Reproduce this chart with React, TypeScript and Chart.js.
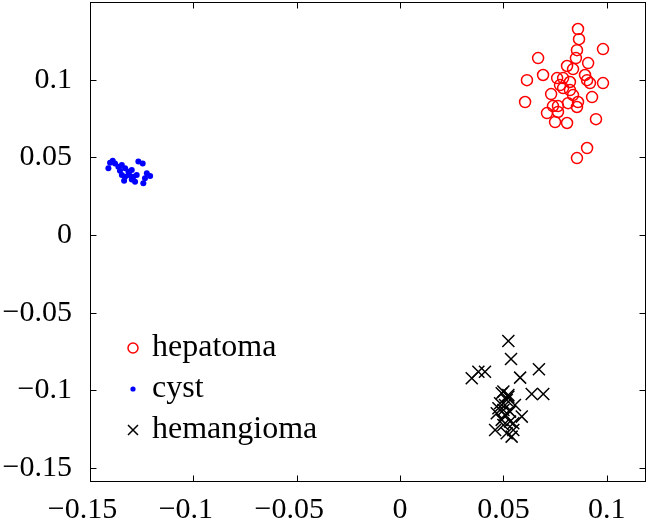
import React, { useEffect, useRef } from 'react';
import { Chart, registerables } from 'chart.js';

Chart.register(...registerables);

// ---- data ----
const seriesLabels = ['hepatoma', 'cyst', 'hemangioma'];

const hepatomaX = [0.0861, 0.0866, 0.0856, 0.0982, 0.0668, 0.0851, 0.091, 0.0808, 0.0837, 0.0614, 0.0692, 0.076, 0.0789, 0.0822, 0.0895, 0.0905, 0.0919, 0.0982, 0.0774, 0.0605, 0.0731, 0.0789, 0.0822, 0.0837, 0.0929, 0.0764, 0.074, 0.0861, 0.0856, 0.0711, 0.0764, 0.0813, 0.075, 0.0808, 0.0948, 0.0905, 0.0856];
const hepatomaY = [0.1326, 0.1261, 0.119, 0.1197, 0.1139, 0.1139, 0.1107, 0.1088, 0.1068, 0.0997, 0.103, 0.101, 0.101, 0.0985, 0.103, 0.0997, 0.0978, 0.0978, 0.0965, 0.0856, 0.0907, 0.0946, 0.0933, 0.0901, 0.0888, 0.083, 0.083, 0.0856, 0.0824, 0.0785, 0.0792, 0.0849, 0.0727, 0.0721, 0.0746, 0.056, 0.0495];

const cystX = [-0.1403, -0.139, -0.1379, -0.1411, -0.1363, -0.1346, -0.133, -0.1355, -0.1314, -0.1298, -0.131, -0.133, -0.129, -0.1335, -0.1282, -0.1242, -0.1266, -0.1245, -0.1225, -0.1209, -0.1234, -0.1298, -0.1274, -0.1346];
const cystY = [0.0465, 0.0478, 0.0461, 0.0429, 0.044, 0.045, 0.0429, 0.0414, 0.0407, 0.0418, 0.0386, 0.0375, 0.0375, 0.0349, 0.0343, 0.0333, 0.0473, 0.0461, 0.0397, 0.038, 0.0365, 0.0358, 0.0386, 0.0386];

const hemangiomaX = [0.0524, 0.0537, 0.0347, 0.0379, 0.0411, 0.0672, 0.0581, 0.0637, 0.0693, 0.05, 0.0524, 0.0492, 0.0524, 0.0484, 0.0508, 0.0556, 0.0468, 0.0508, 0.0532, 0.0589, 0.046, 0.05, 0.0532, 0.0548, 0.054, 0.0492, 0.0476, 0.0516, 0.05, 0.0548, 0.0516];
const hemangiomaY = [-0.0682, -0.0798, -0.0922, -0.088, -0.088, -0.0864, -0.0918, -0.1023, -0.1023, -0.1008, -0.1041, -0.1019, -0.103, -0.1083, -0.1094, -0.1094, -0.1147, -0.1158, -0.1137, -0.1169, -0.1255, -0.1223, -0.1201, -0.1255, -0.1298, -0.119, -0.1115, -0.1062, -0.1126, -0.1212, -0.1276];

const xTickValues = [-0.15, -0.1, -0.05, 0, 0.05, 0.1];
const yTickValues = [-0.15, -0.1, -0.05, 0, 0.05, 0.1];
const xRange = [-0.15, 0.119];
const yRange = [-0.159, 0.15];

// ---- helpers ----
const zip = (xs: number[], ys: number[]) => xs.map((x, i) => ({ x, y: ys[i] }));
const fmt = (v: number) => (v < 0 ? '\u2212' : '') + String(Math.abs(v));
// x labels: the number itself is centred on the tick, the minus hangs to the left
const fmtX = (v: number) => (v < 0 ? fmt(v) + '\u2002' : fmt(v));

const FONT = "'Liberation Serif', 'Times New Roman', serif";

const zeroPad = (s: any) => {
  s.paddingTop = 0;
  s.paddingBottom = 0;
  s.paddingLeft = 0;
  s.paddingRight = 0;
};

const framePlugin = {
  id: 'frame',
  afterDraw(chart: any) {
    const { ctx, chartArea: a, scales } = chart;
    ctx.save();
    ctx.strokeStyle = '#000';
    ctx.lineWidth = 1;
    const L = Math.round(a.left) + 0.5;
    const R = Math.round(a.right) - 0.5;
    const T = Math.round(a.top) + 0.5;
    const B = Math.round(a.bottom) - 0.5;
    ctx.strokeRect(L, T, R - L, B - T);
    const tl = 6;
    ctx.beginPath();
    xTickValues.forEach((v) => {
      const p = Math.round(scales.x.getPixelForValue(v)) + 0.5;
      ctx.moveTo(p, B); ctx.lineTo(p, B - tl);
      ctx.moveTo(p, T); ctx.lineTo(p, T + tl);
    });
    yTickValues.forEach((v) => {
      const p = Math.round(scales.y.getPixelForValue(v)) + 0.5;
      ctx.moveTo(L, p); ctx.lineTo(L + tl, p);
      ctx.moveTo(R, p); ctx.lineTo(R - tl, p);
    });
    ctx.stroke();

    // legend (inside plot, lower left)
    const mx = 133;
    const tx = 152;
    const rows = [348, 389, 430];
    chart.data.datasets.forEach((ds: any, i: number) => {
      const y = rows[i];
      ctx.save();
      if (ds.pointStyle === 'circle' && ds.pointRadius > 4) {
        ctx.strokeStyle = ds.pointBorderColor;
        ctx.lineWidth = ds.pointBorderWidth;
        ctx.beginPath();
        ctx.arc(mx, y, 5, 0, Math.PI * 2);
        ctx.stroke();
      } else if (ds.pointStyle === 'circle') {
        ctx.fillStyle = ds.pointBackgroundColor;
        ctx.beginPath();
        ctx.arc(mx, y, 2.6, 0, Math.PI * 2);
        ctx.fill();
      } else {
        ctx.strokeStyle = ds.pointBorderColor;
        ctx.lineWidth = ds.pointBorderWidth;
        const h = 5;
        ctx.beginPath();
        ctx.moveTo(mx - h, y - h); ctx.lineTo(mx + h, y + h);
        ctx.moveTo(mx - h, y + h); ctx.lineTo(mx + h, y - h);
        ctx.stroke();
      }
      ctx.restore();
      ctx.fillStyle = '#000';
      ctx.font = `32px ${FONT}`;
      ctx.textBaseline = 'middle';
      ctx.textAlign = 'left';
      ctx.fillText(ds.label, tx, y);
    });
    ctx.restore();
  },
};

export default function App() {
  const ref = useRef<HTMLCanvasElement | null>(null);

  useEffect(() => {
    if (!ref.current) return;
    const chart = new Chart(ref.current, {
      type: 'scatter',
      data: {
        datasets: [
          {
            label: seriesLabels[0],
            data: zip(hepatomaX, hepatomaY),
            pointStyle: 'circle',
            pointRadius: 5.5,
            pointBorderWidth: 1.5,
            pointBorderColor: '#ff0000',
            pointBackgroundColor: 'rgba(0,0,0,0)',
          },
          {
            label: seriesLabels[1],
            data: zip(cystX, cystY),
            pointStyle: 'circle',
            pointRadius: 3,
            pointBorderWidth: 0,
            pointBorderColor: '#0000ff',
            pointBackgroundColor: '#0000ff',
          },
          {
            label: seriesLabels[2],
            data: zip(hemangiomaX, hemangiomaY),
            pointStyle: 'crossRot',
            pointRadius: 8.5,
            pointBorderWidth: 1.5,
            pointBorderColor: '#000000',
            pointBackgroundColor: '#000000',
          },
        ] as any,
      },
      options: {
        responsive: false,
        animation: false,
        devicePixelRatio: 1,
        layout: { autoPadding: false, padding: { top: 2, right: 3, left: 0, bottom: 0 } },
        plugins: { legend: { display: false }, tooltip: { enabled: false } },
        scales: {
          x: {
            type: 'linear',
            min: xRange[0],
            max: xRange[1],
            grid: { display: false, drawTicks: false },
            border: { display: false },
            afterBuildTicks: (s: any) => { s.ticks = xTickValues.map((v) => ({ value: v })); },
            afterFit: (s: any) => { s.height = 41; zeroPad(s); },
            ticks: {
              includeBounds: false,
              autoSkip: false,
              maxRotation: 0,
              padding: 10,
              color: '#000',
              font: { family: FONT, size: 30 },
              callback: (v: any) => fmtX(Number(v)),
            },
          },
          y: {
            type: 'linear',
            min: yRange[0],
            max: yRange[1],
            grid: { display: false, drawTicks: false },
            border: { display: false },
            afterBuildTicks: (s: any) => { s.ticks = yTickValues.map((v) => ({ value: v })); },
            afterFit: (s: any) => { s.width = 90; zeroPad(s); },
            ticks: {
              includeBounds: false,
              autoSkip: false,
              padding: 18,
              color: '#000',
              font: { family: FONT, size: 30 },
              callback: (v: any) => fmt(Number(v)),
            },
          },
        },
      } as any,
      plugins: [framePlugin],
    });
    return () => chart.destroy();
  }, []);

  return (
    <div style={{ position: 'absolute', left: 0, top: 0, width: 649, height: 523, background: '#fff' }}>
      <canvas ref={ref} width={649} height={523} style={{ width: 649, height: 523 }} />
    </div>
  );
}
